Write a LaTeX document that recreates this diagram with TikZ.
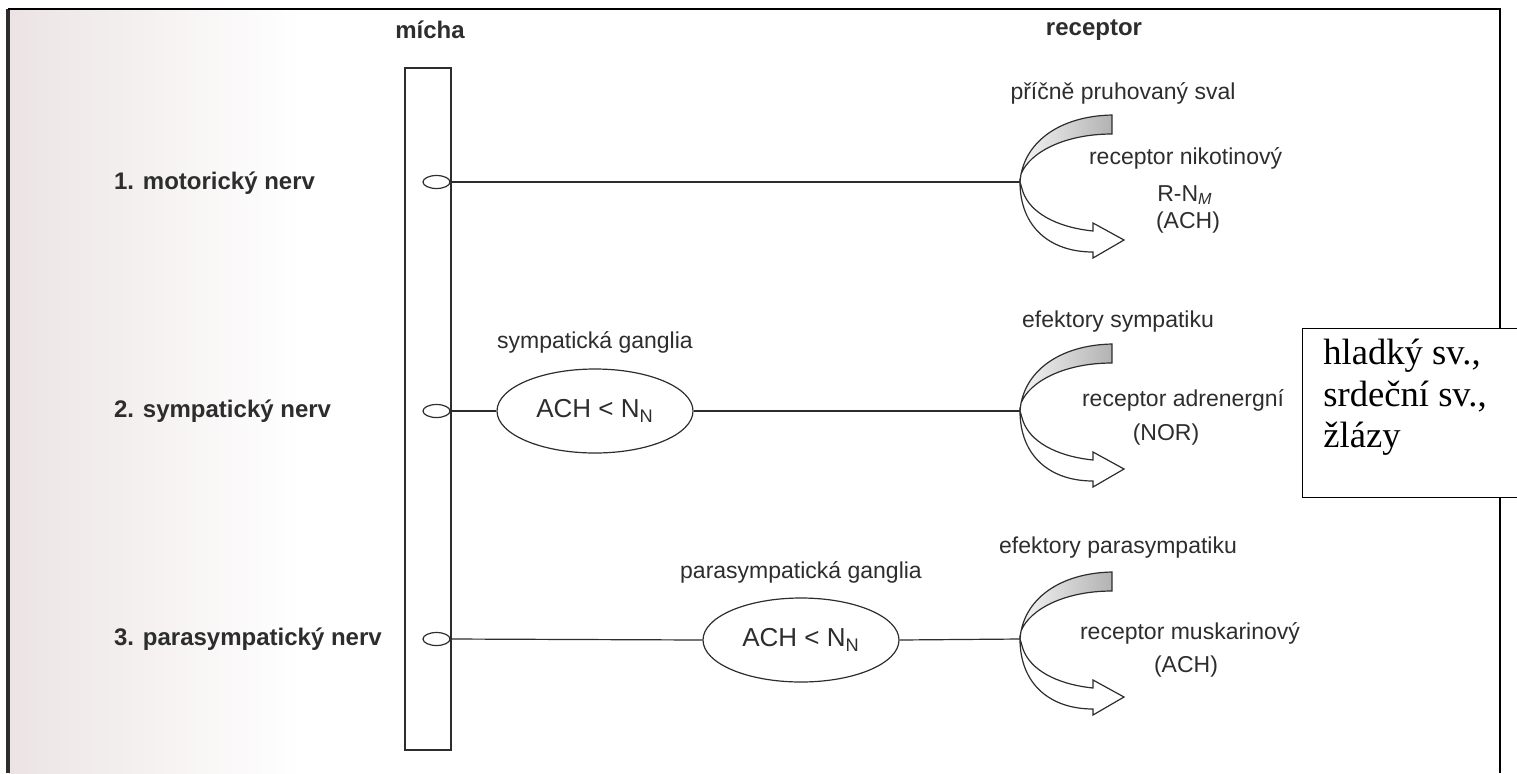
\documentclass[tikz,border=0pt]{standalone}
\usepackage{fontspec}
\setmainfont{Liberation Sans}
\newfontfamily\boxfont{Liberation Serif}
\usetikzlibrary{shapes.geometric}

\definecolor{scanpink}{RGB}{236,228,228}
\definecolor{ink}{RGB}{45,45,45}

\tikzset{
  receptor/.pic={
    % upper band (grey) and lower open arrow
    \shadedraw[left color=gray!8, right color=gray!60, draw=ink, line width=0.6pt]
      (0,0) .. controls (3,-40) and (40,-66) .. (92,-67) -- (92,-48)
      .. controls (45,-48) and (10,-30) .. (1,-8) -- cycle;
    \filldraw[fill=white, draw=ink, line width=0.6pt]
      (0,0) .. controls (0,45) and (30,70) .. (73,70) -- (73,76) -- (104,58)
      -- (73,41) -- (73,49) .. controls (35,45) and (10,30) .. (3,10) -- cycle;
  }
}

\begin{document}
\begin{tikzpicture}[x=0.5pt, y=-0.5pt,
    every node/.style={text=ink, font=\fontsize{11.5}{14}\selectfont},
    rowlabel/.style={anchor=west, font=\fontsize{12}{14}\selectfont\bfseries},
    head/.style={font=\fontsize{12}{14}\selectfont\bfseries},
    nerve/.style={draw=ink, line width=0.6pt},
    synapse/.style={ellipse, draw=ink, line width=0.6pt, inner sep=0pt,
      minimum width=13.5pt, minimum height=6.5pt},
    ganglion/.style={ellipse, draw=ink, line width=0.6pt, inner sep=0pt,
      minimum width=98pt, minimum height=42pt, font=\fontsize{13}{15}\selectfont}]
    \useasboundingbox (0,0) rectangle (1517,773);
    \shade[left color=scanpink, right color=white] (9,9) rectangle (300,773);
    \draw[line width=2pt, ink] (8,9) -- (8,773);
    \draw[line width=0.7pt] (8,9) -- (1500,9) -- (1500,773);

    % headings
    \node[head] (michalabel) at (430,30) {mícha};
    \node[head] (receptorlabel) at (1094,30) {receptor};

    % spinal cord
    \node[draw=ink, line width=0.6pt, minimum width=23pt, minimum height=341pt,
      inner sep=0pt] (cord) at (428,409) {};

    % rows
    \node[rowlabel] (motor) at (107,183) {1. motorický nerv};
    \node[rowlabel] (symp) at (107,411) {2. sympatický nerv};
    \node[rowlabel] (para) at (107,639) {3. parasympatický nerv};

    \node[synapse] (s1) at (436.5,182) {};
    \node[synapse] (s2) at (436.5,411) {};
    \node[synapse] (s3) at (436.5,639) {};

    \coordinate (r1) at (1020,182);
    \coordinate (r2) at (1020,411);
    \coordinate (r3) at (1020,639);

    \node[ganglion] (g2) at (595,411) {ACH < N\textsubscript{N}};
    \node[ganglion] (g3) at (801,640) {ACH < N\textsubscript{N}};
    \node (g2label) at (595,342) {sympatická ganglia};
    \node (g3label) at (801,572) {parasympatická ganglia};

    \draw[nerve] (s1.east) -- (r1);
    \draw[nerve] (s2.east) -- (g2.west);
    \draw[nerve] (g2.east) -- (r2);
    \draw[nerve] (s3.east) -- (g3.west);
    \draw[nerve] (g3.east) -- (r3);

    \pic at (r1) {receptor};
    \pic at (r2) {receptor};
    \pic at (r3) {receptor};

    % receptor texts
    \node (eff1) at (1123,93) {příčně pruhovaný sval};
    \node[anchor=west] (rec1) at (1082,158) {receptor nikotinový};
    \node (rec1b) at (1185,195) {R-N\textsubscript{\textit{M}}};
    \node (rec1c) at (1188,223) {(ACH)};

    \node (eff2) at (1118,322) {efektory sympatiku};
    \node[anchor=west] (rec2) at (1075,400) {receptor adrenergní};
    \node (rec2b) at (1166,435) {(NOR)};

    \node (eff3) at (1118,548) {efektory parasympatiku};
    \node[anchor=west] (rec3) at (1073,633) {receptor muskarinový};
    \node (rec3b) at (1186,667) {(ACH)};

    % added box
    \node[draw, fill=white, line width=0.7pt, anchor=north west, inner sep=0pt,
      minimum width=114pt, minimum height=84.5pt] (tissue) at (1302,328) {};
    \node[anchor=north west, align=left, inner sep=0pt, text=black,
      font=\boxfont\fontsize{18.3}{20.75}\selectfont] (tissuetext) at (1323,339)
      {hladký sv.,\\ srdeční sv.,\\ žlázy};
\end{tikzpicture}
\end{document}
